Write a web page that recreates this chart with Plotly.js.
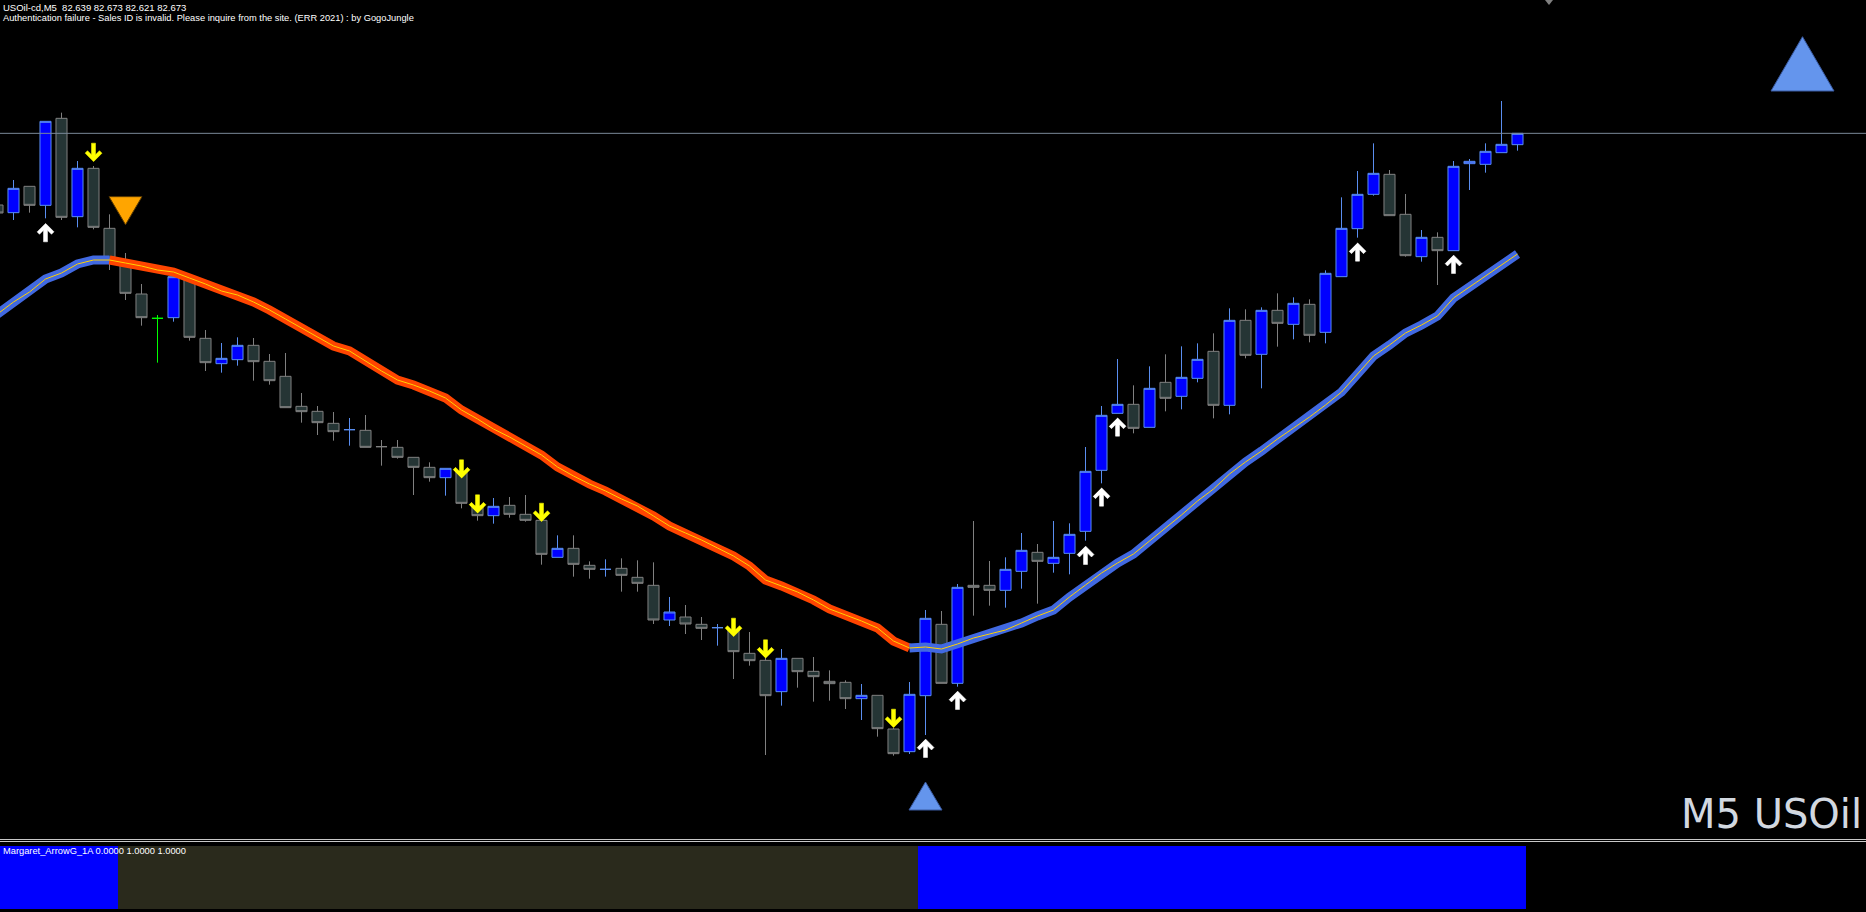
<!DOCTYPE html>
<html>
<head>
<meta charset="utf-8">
<script src="https://cdn.plot.ly/plotly-3.0.1.min.js"></script>
<style>
html,body{margin:0;padding:0;background:#000;overflow:hidden}
#chart{width:1866px;height:912px}
</style>
</head>
<body>
<div id="chart"></div>
<script>
// ---------------- DATA (USOil-cd, M5) ----------------
const symbolName = "USOil-cd,M5";
const chartLabel = "M5 USOil";
const authMessage = "Authentication failure - Sales ID is invalid. Please inquire from the site. (ERR 2021) : by GogoJungle";
const indicatorName = "Margaret_ArrowG_1A";
const indicatorValues = ["0.0000", "1.0000", "1.0000"];

// bar index of the first candle (partially visible at the left edge)
const firstBar = -1;

const open = [82.458,82.435,82.514,82.457,82.718,82.423,82.568,82.388,82.287,82.191,
82.118,82.120,82.233,82.058,81.982,81.994,82.037,81.989,81.944,81.854,
81.839,81.803,81.784,81.782,81.733,81.731,81.701,81.671,81.640,81.658,
81.555,81.526,81.557,81.530,81.512,81.401,81.428,81.377,81.365,81.368,
81.341,81.317,81.213,81.222,81.200,81.190,81.183,81.113,81.092,80.998,
81.098,81.059,81.029,81.026,80.977,80.987,80.886,80.818,80.986,81.200,
81.023,81.317,81.317,81.302,81.359,81.416,81.383,81.413,81.479,81.662,
81.833,81.860,81.791,81.926,81.884,81.938,82.019,81.857,82.112,82.010,
82.142,82.100,82.160,82.076,82.243,82.387,82.490,82.550,82.430,82.303,
82.361,82.321,82.582,82.580,82.615,82.639];

const high = [82.473,82.533,82.514,82.709,82.735,82.590,82.575,82.430,82.314,82.221,
82.128,82.251,82.245,82.083,82.044,82.061,82.059,82.011,82.014,81.894,
81.855,81.837,81.819,81.828,81.753,81.753,81.701,81.686,81.668,81.669,
81.561,81.579,81.582,81.588,81.519,81.467,81.467,81.389,81.395,81.398,
81.392,81.386,81.282,81.258,81.222,81.201,81.189,81.177,81.099,81.126,
81.098,81.102,81.062,81.032,81.021,80.987,80.889,81.027,81.243,81.240,
81.321,81.510,81.390,81.401,81.474,81.441,81.510,81.503,81.732,81.855,
81.996,81.917,81.974,82.010,82.034,82.043,82.073,82.148,82.145,82.151,
82.193,82.181,82.175,82.262,82.481,82.560,82.643,82.563,82.491,82.383,
82.376,82.590,82.596,82.643,82.770,82.673];

const low = [82.419,82.413,82.435,82.418,82.413,82.391,82.385,82.263,82.173,82.096,
81.985,82.108,82.051,81.960,81.955,81.976,81.931,81.919,81.850,81.805,
81.768,81.751,81.736,81.731,81.676,81.697,81.588,81.628,81.586,81.548,
81.511,81.502,81.520,81.508,81.379,81.401,81.343,81.337,81.343,81.298,
81.298,81.201,81.195,81.171,81.153,81.136,81.036,81.076,80.808,80.956,
81.010,80.968,80.971,80.946,80.913,80.863,80.806,80.811,80.868,81.023,
81.013,81.226,81.256,81.250,81.307,81.262,81.355,81.350,81.451,81.623,
81.833,81.773,81.791,81.839,81.845,81.926,81.818,81.830,81.998,81.908,
82.033,82.055,82.046,82.043,82.243,82.360,82.486,82.426,82.303,82.288,
82.218,82.321,82.503,82.555,82.615,82.621];

const close = [82.434,82.508,82.457,82.709,82.421,82.568,82.391,82.299,82.193,82.120,
82.118,82.243,82.061,81.985,81.998,82.037,81.988,81.931,81.850,81.838,
81.805,81.778,81.784,81.731,81.733,81.701,81.671,81.640,81.668,81.563,
81.526,81.554,81.530,81.512,81.410,81.428,81.380,81.365,81.365,81.347,
81.323,81.213,81.237,81.201,81.188,81.190,81.118,81.091,80.986,81.098,
81.058,81.043,81.022,80.977,80.987,80.887,80.812,80.990,81.218,81.023,
81.311,81.311,81.302,81.365,81.422,81.389,81.401,81.470,81.659,81.827,
81.860,81.788,81.908,81.878,81.941,81.995,81.857,82.112,82.007,82.142,
82.103,82.163,82.067,82.253,82.388,82.490,82.553,82.426,82.306,82.361,
82.321,82.574,82.589,82.619,82.640,82.673];

// colour of the doji candles as drawn (bar index -> style)
const dojiStyle = {9: "green", 21: "bull", 23: "bear", 37: "bull", 44: "bull"};

// trend moving average (price)
const maLine = [82.131,82.167,82.197,82.236,82.254,82.281,82.293,82.293,82.284,82.275,
82.263,82.257,82.239,82.221,82.200,82.188,82.167,82.143,82.116,82.089,
82.062,82.035,82.020,81.990,81.960,81.933,81.918,81.900,81.879,81.843,
81.816,81.786,81.762,81.735,81.708,81.672,81.645,81.621,81.600,81.576,
81.555,81.525,81.495,81.474,81.453,81.429,81.405,81.375,81.333,81.315,
81.297,81.273,81.246,81.228,81.210,81.189,81.150,81.129,81.132,81.126,
81.141,81.159,81.171,81.183,81.204,81.225,81.243,81.282,81.318,81.354,
81.384,81.411,81.450,81.489,81.528,81.570,81.606,81.651,81.687,81.720,
81.756,81.789,81.822,81.858,81.897,81.951,82.005,82.038,82.074,82.098,
82.125,82.179,82.212,82.245,82.278,82.311];

// trend signals (big triangles) and initial trend
const initialTrend = "up";
const signalBars = [7, 57];
const signalDir = ["down", "up"];
const signalPrice = [82.483, 80.727];

// small arrows
const upArrowBars = [2, 57, 59, 67, 68, 69, 84, 90];
const upArrowPrice = [82.403, 80.856, 81.000, 81.435, 81.610, 81.820, 82.345, 82.308];
const downArrowBars = [5, 28, 29, 33, 45, 47, 55];
const downArrowPrice = [82.588, 81.638, 81.533, 81.508, 81.163, 81.098, 80.890];

// ---------------- LAYOUT GEOMETRY ----------------
const W = 1866, H = 912;
const mainBottomPx = 838;            // bottom of main window
const subTopPx = 846, subBottomPx = 909;
const barSpacingPx = 16, firstCenterPx = 13.5;
const xRange = [-firstCenterPx / barSpacingPx, -firstCenterPx / barSpacingPx + W / barSpacingPx];
const yRange = [80.559, 83.073];
const xPerPx = (xRange[1] - xRange[0]) / W;
const yPerPx = (yRange[1] - yRange[0]) / mainBottomPx;

const bars = open.map((_, k) => k + firstBar);
const nBars = bars.length;
const lastK = nBars - 1;

// ---------------- TRACES ----------------
const traces = [];

// candles
const candleStyles = {
  bull:  {fill: "#0000ff", line: "#5a8ef0"},
  bear:  {fill: "#253535", line: "#808080"},
  green: {fill: "#00ff00", line: "#00ff00"}
};
function styleOf(k) {
  const i = bars[k];
  if (dojiStyle[i]) return dojiStyle[i];
  return close[k] > open[k] ? "bull" : "bear";
}
Object.keys(candleStyles).forEach(s => {
  const idx = bars.map((_, k) => k).filter(k => styleOf(k) === s);
  const st = candleStyles[s];
  traces.push({
    type: "candlestick",
    x: idx.map(k => bars[k]),
    open: idx.map(k => open[k]),
    high: idx.map(k => high[k]),
    low: idx.map(k => low[k]),
    close: idx.map(k => close[k]),
    increasing: {line: {color: st.line, width: 1}, fillcolor: st.fill},
    decreasing: {line: {color: st.line, width: 1}, fillcolor: st.fill},
    whiskerwidth: 0,
    hoverinfo: "skip",
    showlegend: false
  });
});

// trend of every bar
function trendAt(i) {
  let t = initialTrend;
  signalBars.forEach((b, j) => { if (i >= b) t = signalDir[j]; });
  return t;
}

// moving-average band, coloured by trend
const trendColor = {up: "#4169e1", down: "#ff4500"};
const segStarts = [bars[0]].concat(signalBars.map(b => b - 1));
const segTrend = [initialTrend].concat(signalDir);
segStarts.forEach((s, j) => {
  const e = j + 1 < segStarts.length ? segStarts[j + 1] : bars[lastK];
  const idx = bars.map((_, k) => k).filter(k => bars[k] >= s && bars[k] <= e);
  traces.push({
    type: "scatter", mode: "lines",
    x: idx.map(k => bars[k]), y: idx.map(k => maLine[k]),
    line: {color: trendColor[segTrend[j]], width: 9},
    hoverinfo: "skip", showlegend: false
  });
});
traces.push({
  type: "scatter", mode: "lines", x: bars, y: maLine,
  line: {color: "#ffd200", width: 1},
  hoverinfo: "skip", showlegend: false
});

// small arrows (polygon shape in pixels, tip at the anchor)
const arrowShape = [[0,0],[8.5,8.5],[6,11],[2,7],[2,18.5],[-2,18.5],[-2,7],[-6,11],[-8.5,8.5]];
function arrowTrace(barsArr, priceArr, dirSign, color) {
  const xs = [], ys = [];
  barsArr.forEach((b, j) => {
    arrowShape.forEach(p => {
      xs.push(b + p[0] * xPerPx);
      ys.push(priceArr[j] - dirSign * p[1] * yPerPx);
    });
    xs.push(null); ys.push(null);
  });
  return {type: "scatter", mode: "lines", x: xs, y: ys, fill: "toself",
          fillcolor: color, line: {color: color, width: 0.5},
          hoverinfo: "skip", showlegend: false};
}
traces.push(arrowTrace(upArrowBars, upArrowPrice, 1, "#ffffff"));
traces.push(arrowTrace(downArrowBars, downArrowPrice, -1, "#ffff00"));

// big signal triangles
const triW = 33, triH = 28;
signalBars.forEach((b, j) => {
  let pts;
  if (signalDir[j] === "down") pts = [[-triW/2, 0], [triW/2, 0], [0, triH]];
  else pts = [[0, 0], [triW/2, triH], [-triW/2, triH]];
  const fill = signalDir[j] === "down" ? "#ffa500" : "#6495ed";
  const edge = signalDir[j] === "down" ? "#5a3a00" : "#3a5aa0";
  traces.push({
    type: "scatter", mode: "lines",
    x: pts.map(p => b + p[0] * xPerPx).concat([b + pts[0][0] * xPerPx]),
    y: pts.map(p => signalPrice[j] - p[1] * yPerPx).concat([signalPrice[j] - pts[0][1] * yPerPx]),
    fill: "toself", fillcolor: fill, line: {color: edge, width: 1},
    hoverinfo: "skip", showlegend: false
  });
});

// indicator histogram in the sub window
const histColor = {up: "#0000ff", down: "#2a2a1c"};
["up", "down"].forEach(t => {
  const idx = bars.map((_, k) => k).filter(k => trendAt(bars[k]) === t);
  traces.push({
    type: "bar", x: idx.map(k => bars[k]), y: idx.map(() => 1),
    width: 1, marker: {color: histColor[t], line: {width: 0}},
    xaxis: "x", yaxis: "y2", hoverinfo: "skip", showlegend: false
  });
});

// ---------------- LAYOUT ----------------
const py = px => 1 - px / H;
const pxX = px => px / W;
const hdr = symbolName + "\u00a0\u00a0" + [open[lastK], high[lastK], low[lastK], close[lastK]].map(v => v.toFixed(3)).join(" ");

const layout = {
  width: W, height: H,
  margin: {l: 0, r: 0, t: 0, b: 0, pad: 0},
  paper_bgcolor: "#000000", plot_bgcolor: "#000000",
  showlegend: false,
  boxmode: "overlay",
  boxgap: 0.31,
  boxgroupgap: 0,
  bargap: 0,
  xaxis: {range: xRange, visible: false, showgrid: false, zeroline: false, rangeslider: {visible: false}, fixedrange: true},
  yaxis: {range: yRange, domain: [py(mainBottomPx), 1], visible: false, showgrid: false, zeroline: false, fixedrange: true},
  yaxis2: {range: [0, 1], domain: [py(subBottomPx), py(subTopPx)], visible: false, showgrid: false, zeroline: false, anchor: "x", fixedrange: true},
  shapes: [
    // bid line
    {type: "line", xref: "paper", yref: "y", x0: 0, x1: 1, y0: close[lastK], y1: close[lastK],
     line: {color: "#7a8898", width: 1}},
    // window separator
    {type: "line", xref: "paper", yref: "paper", x0: 0, x1: 1, y0: py(839.5), y1: py(839.5), line: {color: "#c8c8c8", width: 1}},
    {type: "line", xref: "paper", yref: "paper", x0: 0, x1: 1, y0: py(841.5), y1: py(841.5), line: {color: "#c8c8c8", width: 1}},
    // chart-shift marker
    {type: "path", xref: "paper", yref: "paper",
     path: `M ${pxX(1545)} ${py(0)} L ${pxX(1553)} ${py(0)} L ${pxX(1549)} ${py(5)} Z`,
     fillcolor: "#808080", line: {width: 0}},
    // trend label triangle (top right)
    {type: "path", xref: "paper", yref: "paper",
     path: `M ${pxX(1802.5)} ${py(36.7)} L ${pxX(1834)} ${py(91)} L ${pxX(1771)} ${py(91)} Z`,
     fillcolor: "#6495ed", line: {color: "#3a5aa0", width: 1}}
  ],
  annotations: [
    {xref: "paper", yref: "paper", x: pxX(1), y: py(0), xanchor: "left", yanchor: "top",
     text: hdr, showarrow: false, font: {family: "Liberation Sans, Arial, sans-serif", size: 9.5, color: "#ffffff"}},
    {xref: "paper", yref: "paper", x: pxX(1), y: py(11), xanchor: "left", yanchor: "top",
     text: authMessage, showarrow: false, font: {family: "Liberation Sans, Arial, sans-serif", size: 9.3, color: "#ffffff"}},
    {xref: "paper", yref: "paper", x: pxX(1), y: py(844), xanchor: "left", yanchor: "top",
     text: indicatorName + " " + indicatorValues.join(" "), showarrow: false,
     font: {family: "Liberation Sans, Arial, sans-serif", size: 9.3, color: "#ffffff"}},
    {xref: "paper", yref: "paper", x: pxX(1864), y: py(814), xanchor: "right", yanchor: "middle",
     text: chartLabel, showarrow: false, font: {family: "DejaVu Sans, Verdana, sans-serif", size: 40, color: "#d2d8e0"}}
  ]
};

Plotly.newPlot("chart", traces, layout, {staticPlot: true, displayModeBar: false});
</script>
</body>
</html>
